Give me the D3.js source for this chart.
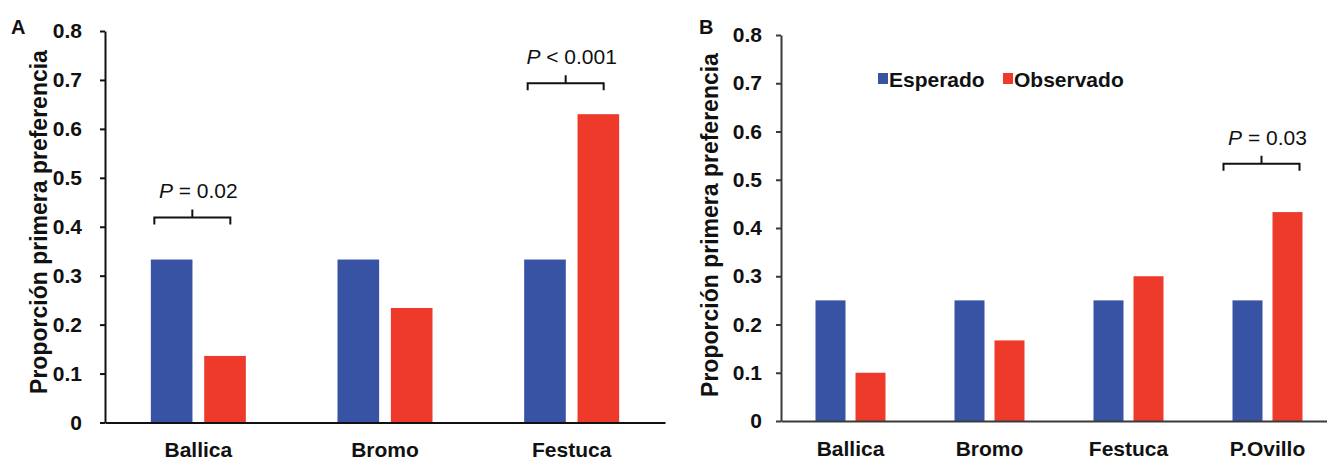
<!DOCTYPE html>
<html>
<head>
<meta charset="utf-8">
<script src="https://cdn.jsdelivr.net/npm/d3@7"></script>
<style>
  body { margin: 0; background: #fff; }
  svg { display: block; font-family: "Liberation Sans", Arial, sans-serif; }
</style>
</head>
<body>
<div id="viz"></div>
<script>
var width = 1327;
var height = 460;

// data
var series = ["Esperado", "Observado"];
var colors = ["#3953a4", "#ee3a2a"];
var tickVals = [0, 0.1, 0.2, 0.3, 0.4, 0.5, 0.6, 0.7, 0.8];
var tickLabels = ["0", "0.1", "0.2", "0.3", "0.4", "0.5", "0.6", "0.7", "0.8"];

var catsA = ["Ballica", "Bromo", "Festuca"];
var espA = [0.333, 0.333, 0.333];
var obsA = [0.136, 0.234, 0.630];
var sigA = [
  {cat: "Ballica", level: 0.419, label: "= 0.02"},
  {cat: "Festuca", level: 0.693, label: "< 0.001"}
];

var catsB = ["Ballica", "Bromo", "Festuca", "P.Ovillo"];
var espB = [0.25, 0.25, 0.25, 0.25];
var obsB = [0.10, 0.167, 0.30, 0.433];
var sigB = [
  {cat: "P.Ovillo", level: 0.533, label: "= 0.03"}
];

var FS = 21; // label font size

var svg = d3.select("#viz").append("svg")
    .attr("width", width)
    .attr("height", height);

function label(g, x, y, txt, size, weight, anchor) {
  return g.append("text")
      .attr("x", x)
      .attr("y", y)
      .attr("text-anchor", anchor || "start")
      .style("font-size", size + "px")
      .style("font-weight", weight || "bold")
      .style("fill", "#111")
      .text(txt);
}

function panel(opt) {
  var g = svg.append("g");

  var x = d3.scaleBand().domain(opt.cats).range(opt.xr);
  var inner = d3.scaleBand().domain(series).range([0, opt.groupW]).paddingInner(opt.gap);
  var y = d3.scaleLinear().domain([0, 0.8]).range(opt.yr);
  var off = (x.bandwidth() - opt.groupW) / 2;

  var rows = opt.cats.map(function(c, i) {
    return {cat: c, vals: [opt.esp[i], opt.obs[i]]};
  });

  g.selectAll(".grp")
    .data(rows)
    .enter().append("g")
      .attr("transform", function(d) { return "translate(" + (x(d.cat) + off) + ",0)"; })
    .selectAll("rect")
    .data(function(d) { return d.vals.map(function(v, k) { return {s: series[k], v: v, k: k}; }); })
    .enter().append("rect")
      .attr("x", function(d) { return inner(d.s); })
      .attr("width", inner.bandwidth())
      .attr("y", function(d) { return y(d.v); })
      .attr("height", function(d) { return y(0) - y(d.v); })
      .style("fill", function(d) { return colors[d.k]; });

  // y axis
  var ya = g.append("g")
      .attr("transform", "translate(" + opt.xr[0] + ",0)")
      .call(d3.axisLeft(y)
        .tickValues(tickVals)
        .tickSize(5)
        .tickSizeOuter(0)
        .tickFormat(function(d, i) { return tickLabels[i]; }));
  ya.select(".domain").style("stroke", opt.axisColor).style("stroke-width", 2);
  ya.selectAll(".tick line").style("stroke", opt.axisColor).style("stroke-width", 2);
  ya.selectAll(".tick text")
      .attr("x", -opt.labelGap)
      .style("font-size", FS + "px")
      .style("font-weight", "bold")
      .style("font-family", "Liberation Sans, Arial, sans-serif")
      .style("fill", "#111");

  // x axis
  var xa = g.append("g")
      .attr("transform", "translate(0," + y(0) + ")")
      .call(d3.axisBottom(x).tickSize(0).tickSizeOuter(0));
  xa.select(".domain").style("stroke", opt.axisColor).style("stroke-width", 2);
  xa.selectAll(".tick text")
      .attr("y", 20)
      .style("font-size", FS + "px")
      .style("font-weight", "bold")
      .style("font-family", "Liberation Sans, Arial, sans-serif")
      .style("fill", "#111");

  // y title
  g.append("text")
      .attr("transform", "translate(" + opt.titleX + "," + opt.titleY + ") rotate(-90)")
      .attr("text-anchor", "middle")
      .attr("dy", "0.35em")
      .style("font-size", "23px")
      .style("font-weight", "bold")
      .style("fill", "#111")
      .text("Proporción primera preferencia");

  // panel letter
  label(g, opt.letterX, 34, opt.letter, 20, "bold");

  // significance brackets
  opt.sig.forEach(function(s) {
    var cx = x(s.cat) + x.bandwidth() / 2;
    var bx = cx - 6;
    var by = y(s.level);
    g.append("path")
        .attr("d", "M" + (bx - 38) + "," + (by + 7) + "V" + by + "H" + (bx + 38) + "V" + (by + 7) +
                   "M" + bx + "," + by + "V" + (by - 8))
        .style("fill", "none")
        .style("stroke", "#111")
        .style("stroke-width", 2);
    var t = label(g, cx, by - 19, "", FS, "normal", "middle");
    t.append("tspan").style("font-style", "italic").text("P");
    t.append("tspan").text(" " + s.label);
  });

  return g;
}

panel({
  cats: catsA, esp: espA, obs: obsA, sig: sigA,
  xr: [105, 665], yr: [422.5, 31], groupW: 95, gap: 0.22,
  axisColor: "#111", labelGap: 23, titleX: 39, titleY: 222,
  letter: "A", letterX: 11
});

panel({
  cats: catsB, esp: espB, obs: obsB, sig: sigB,
  xr: [781, 1337], yr: [421, 35], groupW: 70, gap: 0.25,
  axisColor: "#3a3a3a", labelGap: 19, titleX: 710, titleY: 225,
  letter: "B", letterX: 699
});

// legend (panel B)
var legX = [878, 1003];
series.forEach(function(s, i) {
  svg.append("rect")
      .attr("x", legX[i])
      .attr("y", 73)
      .attr("width", 10)
      .attr("height", 11)
      .style("fill", colors[i]);
  label(svg, legX[i] + 11, 87, s, FS, "bold");
});
</script>
</body>
</html>
